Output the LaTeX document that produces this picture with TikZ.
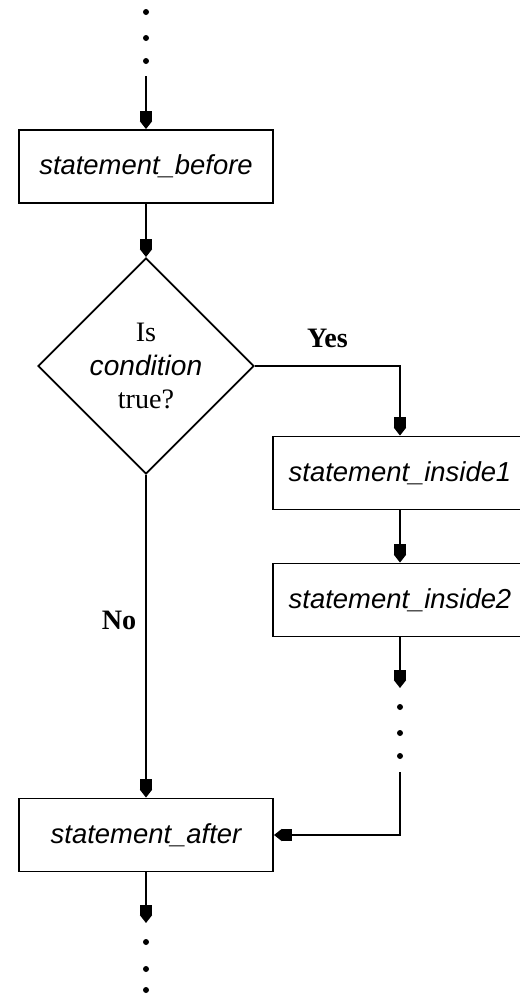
\documentclass[tikz,border=0pt]{standalone}
\usepackage{fontspec}
\setmainfont{Liberation Serif}
\setsansfont{Liberation Sans}
\usepackage{tikz}
\usetikzlibrary{arrows.meta, shapes.geometric, positioning}

\tikzset{
  lenh/.style={draw, line width=1.3pt, minimum width=6.35cm, minimum height=1.825cm, inner sep=0pt,
    font=\fontsize{19.5}{23}\selectfont\sffamily\itshape},
  dieukien/.style={diamond, draw, line width=1.3pt, aspect=1, minimum size=5.4cm, inner sep=0pt,
    align=center, font=\fontsize{20}{24}\selectfont},
  luong/.style={line width=1.3pt, -{Square[length=0.26cm,width=0.3cm]Triangle[length=0.2cm,width=0.3cm]}},
  cham/.style={circle, fill, inner sep=0pt, minimum size=0.15cm},
  nhan/.style={font=\fontsize{20}{24}\selectfont\bfseries}
}

\begin{document}
\begin{tikzpicture}[x=0.025cm, y=-0.025cm]

        % Khung hình
        \useasboundingbox (0,0) rectangle (520,995);
        \clip (0,0) rectangle (520,995);

        % Các khối lệnh
        \node[lenh] (before) at (146,166.5) {statement\_before};
        \node[dieukien] (cond) at (146,366) {Is\\{\sffamily\itshape condition}\\true?};
        \node[lenh] (in1) at (400,473) {statement\_inside1};
        \node[lenh] (in2) at (400,600) {statement\_inside2};
        \node[lenh] (after) at (146,835) {statement\_after};

        % Các dấu chấm
        \foreach \y [count=\i] in {12,38,61} \node[cham] (topdot\i) at (146,\y) {};
        \foreach \y [count=\i] in {707,733,756} \node[cham] (middot\i) at (400,\y) {};
        \foreach \y [count=\i] in {942,969,990} \node[cham] (botdot\i) at (146,\y) {};

        % Điểm đầu, điểm cuối
        \coordinate (topstart) at (146,76);
        \coordinate (in2end) at (400,688);
        \coordinate (rightstart) at (400,772);
        \coordinate (botend) at (146,923);

        % Các mũi tên
        \draw[luong] (topstart) -- (before.north);
        \draw[luong] (before.south) -- (cond.north);
        \draw[luong] (cond.east) -| node[nhan, pos=0.25, above=9pt] {Yes} (in1.north);
        \draw[luong] (in1.south) -- (in2.north);
        \draw[luong] (in2.south) -- (in2end);
        \draw[luong] (rightstart) |- (after.east);
        \draw[luong] (cond.south) -- node[nhan, pos=0.45, left=3pt] {No} (after.north);
        \draw[luong] (after.south) -- (botend);

\end{tikzpicture}
\end{document}
